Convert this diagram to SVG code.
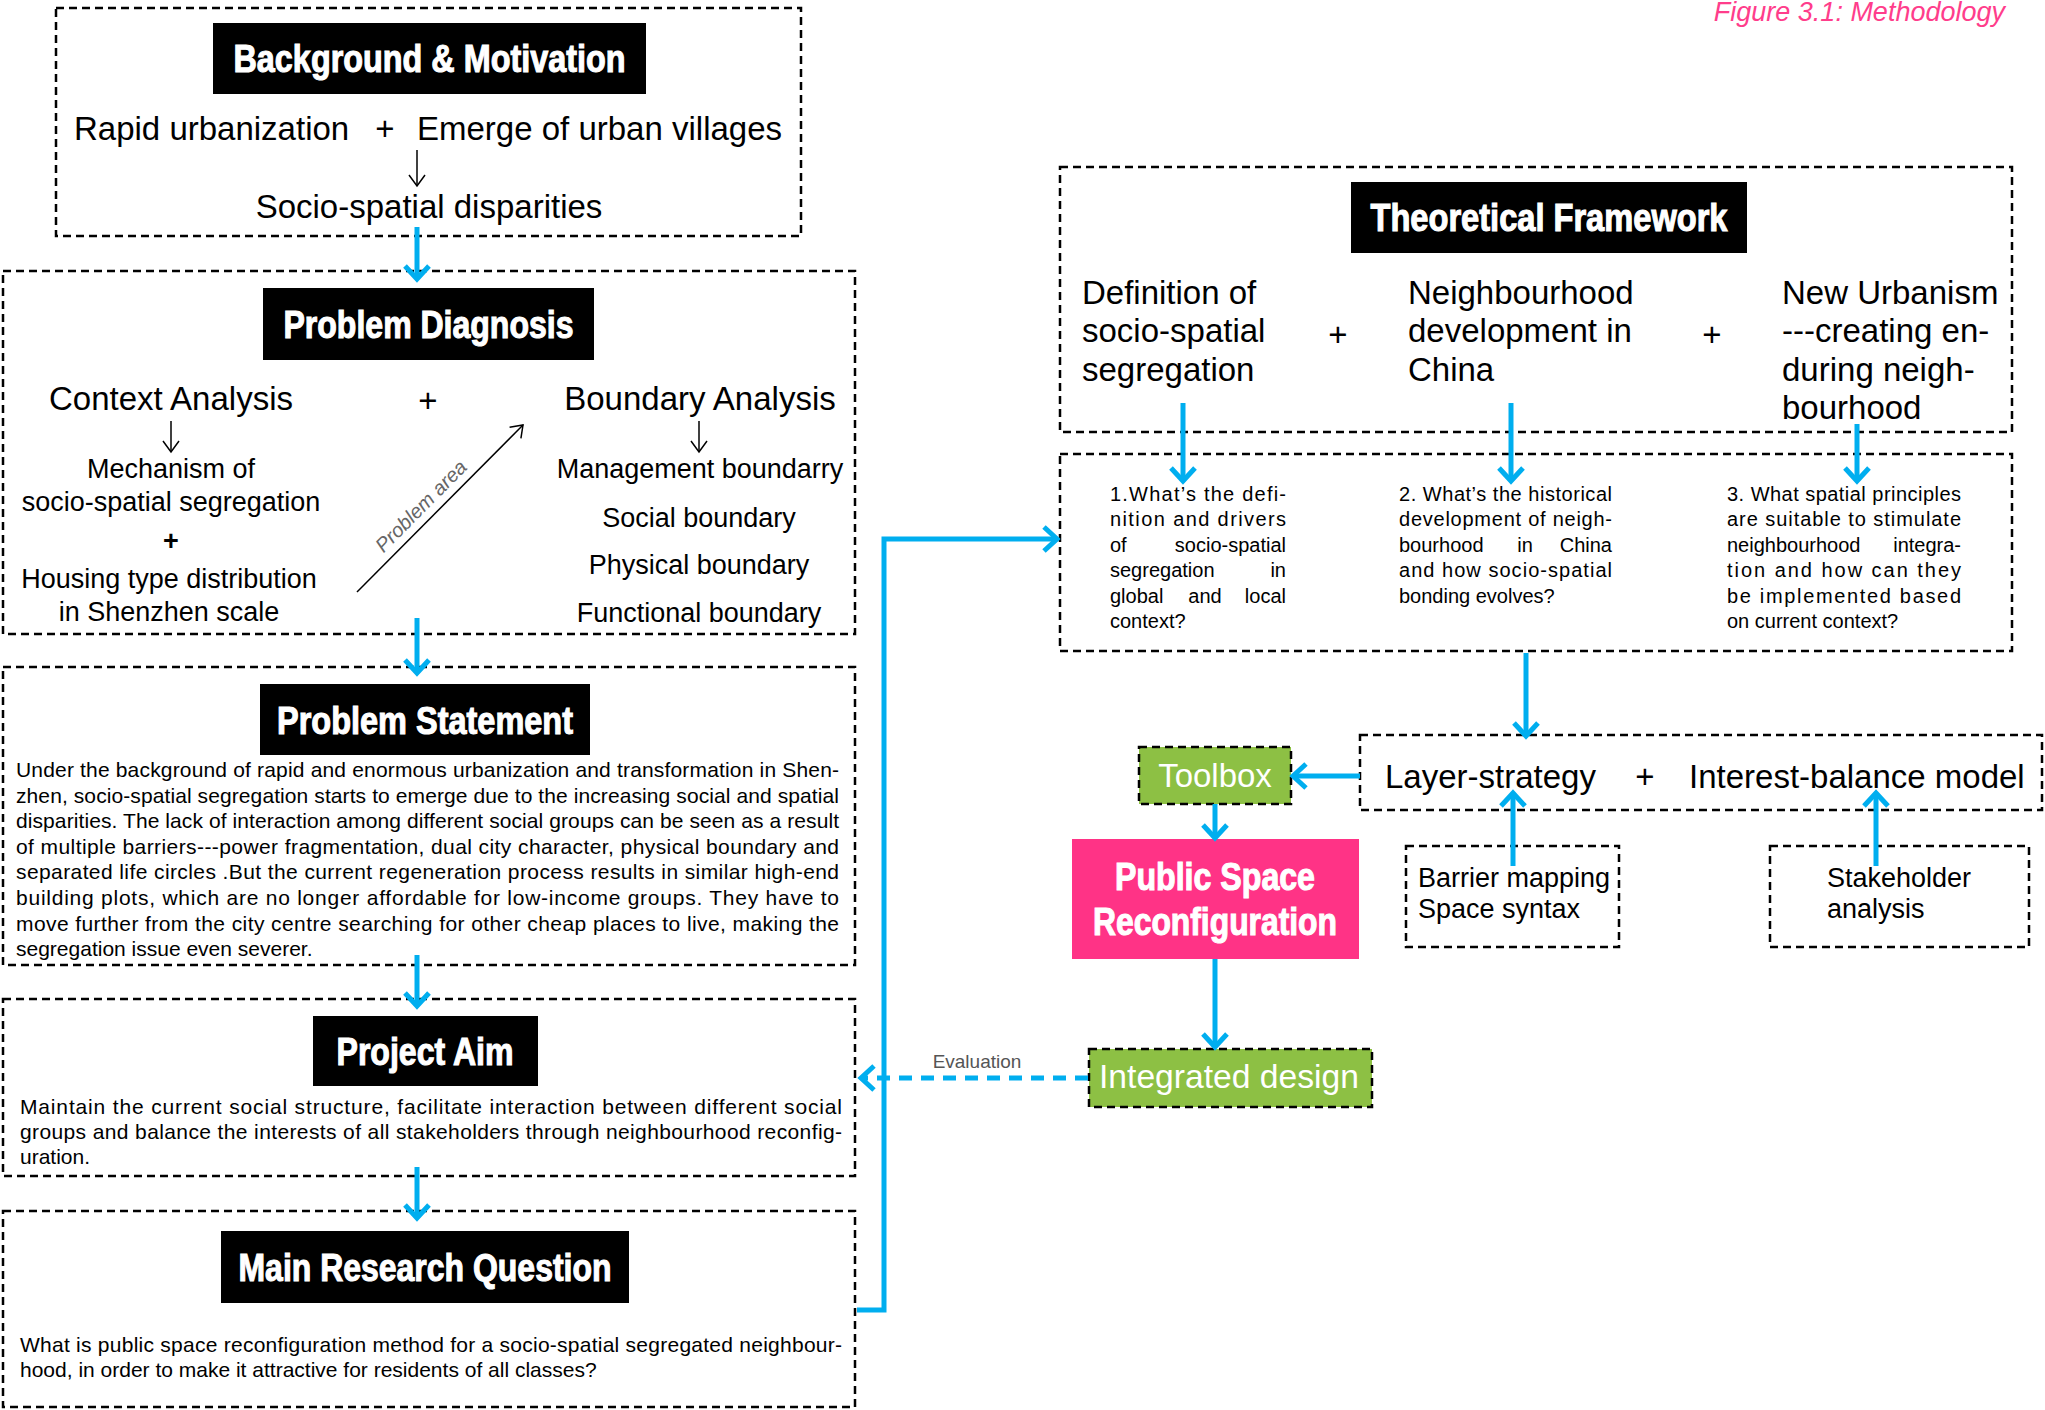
<svg xmlns="http://www.w3.org/2000/svg" width="2045" height="1410" viewBox="0 0 2045 1410">
<defs>
<style>
.bg{fill:#fff}
.dash{fill:none;stroke:#000;stroke-width:2.5;stroke-dasharray:8 5}
.tbox{fill:#000}
.tt{font-family:"Liberation Sans",Arial,sans-serif;font-weight:bold;fill:#fff;stroke:#fff;stroke-width:1.1;text-anchor:middle;font-size:38px}
.h{font-family:"Liberation Sans",Arial,sans-serif;font-size:33px;fill:#000}
.m{font-family:"Liberation Sans",Arial,sans-serif;font-size:27px;fill:#000}
.p{font-family:"Liberation Sans",Arial,sans-serif;font-size:21px;fill:#000}
.q{font-family:"Liberation Sans",Arial,sans-serif;font-size:20px;fill:#000}
.c{text-anchor:middle}
.e{text-anchor:end}
.blue{fill:none;stroke:#00AEEF;stroke-width:5}
.thin{fill:none;stroke:#000;stroke-width:1.5}
.green{fill:#8DC044;stroke:#000;stroke-width:2.5;stroke-dasharray:8 5}
.wt{font-family:"Liberation Sans",Arial,sans-serif;font-size:33px;fill:#fff;text-anchor:middle}
</style>
<marker id="ab" markerUnits="userSpaceOnUse" markerWidth="40" markerHeight="40" refX="0" refY="0" orient="auto" overflow="visible">
<path d="M-13,-12 L0,0 L-13,12" fill="none" stroke="#00AEEF" stroke-width="5" stroke-dasharray="none"/>
</marker>
<marker id="ak" markerUnits="userSpaceOnUse" markerWidth="30" markerHeight="30" refX="0" refY="0" orient="auto" overflow="visible">
<path d="M-11,-8 L0,0 L-11,8" fill="none" stroke="#000" stroke-width="1.5"/>
</marker>
</defs>
<rect class="bg" x="0" y="0" width="2045" height="1410"/>

<text x="2005" y="21" font-family="Liberation Sans,Arial,sans-serif" font-size="27" font-style="italic" fill="#FF3D8B" text-anchor="end">Figure 3.1: Methodology</text>

<g id="background">
<rect class="dash" x="56" y="8" width="745" height="228"/>
<rect class="tbox" x="213" y="23" width="433" height="71"/>
<text class="tt" x="429.5" y="72" textLength="392" lengthAdjust="spacingAndGlyphs">Background &amp; Motivation</text>
<text class="h" x="74" y="140">Rapid urbanization</text>
<text class="h c" x="385" y="140">+</text>
<text class="h" x="417" y="140">Emerge of urban villages</text>
<line class="thin" x1="417" y1="150" x2="417" y2="186" marker-end="url(#ak)"/>
<text class="h c" x="429" y="218">Socio-spatial disparities</text>
</g>

<g id="problem-diagnosis">
<rect class="dash" x="3" y="271" width="852" height="363"/>
<rect class="tbox" x="263" y="288" width="331" height="72"/>
<text class="tt" x="428.5" y="338" textLength="290" lengthAdjust="spacingAndGlyphs">Problem Diagnosis</text>
<text class="h c" x="171" y="410">Context Analysis</text>
<text class="h c" x="428" y="412">+</text>
<text class="h c" x="700" y="410">Boundary Analysis</text>
<line class="thin" x1="171" y1="421" x2="171" y2="452" marker-end="url(#ak)"/>
<line class="thin" x1="699" y1="421" x2="699" y2="452" marker-end="url(#ak)"/>
<text class="m c" x="171" y="478">Mechanism of</text>
<text class="m c" x="171" y="511">socio-spatial segregation</text>
<text class="m c" x="171" y="550" font-weight="bold">+</text>
<text class="m c" x="169" y="588">Housing type distribution</text>
<text class="m c" x="169" y="621">in Shenzhen scale</text>
<text class="m c" x="700" y="478">Management boundarry</text>
<text class="m c" x="699" y="527">Social boundary</text>
<text class="m c" x="699" y="574">Physical boundary</text>
<text class="m c" x="699" y="622">Functional boundary</text>
<line class="thin" x1="357" y1="592" x2="523" y2="425" marker-end="url(#ak)"/>
<text transform="translate(440,508) rotate(-45.2)" x="-12" y="-8" font-family="Liberation Sans,Arial,sans-serif" font-size="20" font-style="italic" fill="#666" text-anchor="middle">Problem area</text>
</g>

<g id="problem-statement">
<rect class="dash" x="3" y="667" width="852" height="298"/>
<rect class="tbox" x="260" y="684" width="330" height="71"/>
<text class="tt" x="425" y="734" textLength="296" lengthAdjust="spacingAndGlyphs">Problem Statement</text>
<text class="p" x="16" y="777" textLength="823" lengthAdjust="spacing">Under the background of rapid and enormous urbanization and transformation in Shen-</text>
<text class="p" x="16" y="803" textLength="823" lengthAdjust="spacing">zhen, socio-spatial segregation starts to emerge due to the increasing social and spatial</text>
<text class="p" x="16" y="828" textLength="823" lengthAdjust="spacing">disparities. The lack of interaction among different social groups can be seen as a result</text>
<text class="p" x="16" y="854" textLength="823" lengthAdjust="spacing">of multiple barriers---power fragmentation, dual city character, physical boundary and</text>
<text class="p" x="16" y="879" textLength="823" lengthAdjust="spacing">separated life circles .But the current regeneration process results in similar high-end</text>
<text class="p" x="16" y="905" textLength="823" lengthAdjust="spacing">building plots, which are no longer affordable for low-income groups. They have to</text>
<text class="p" x="16" y="931" textLength="823" lengthAdjust="spacing">move further from the city centre searching for other cheap places to live, making the</text>
<text class="p" x="16" y="956">segregation issue even severer.</text>
</g>

<g id="project-aim">
<rect class="dash" x="3" y="999" width="852" height="177"/>
<rect class="tbox" x="313" y="1016" width="225" height="70"/>
<text class="tt" x="425" y="1065" textLength="177" lengthAdjust="spacingAndGlyphs">Project Aim</text>
<text class="p" x="20" y="1114" textLength="822" lengthAdjust="spacing">Maintain the current social structure, facilitate interaction between different social</text>
<text class="p" x="20" y="1139" textLength="822" lengthAdjust="spacing">groups and balance the interests of all stakeholders through neighbourhood reconfig-</text>
<text class="p" x="20" y="1164">uration.</text>
</g>

<g id="main-research-question">
<rect class="dash" x="3" y="1211" width="852" height="196"/>
<rect class="tbox" x="221" y="1231" width="408" height="72"/>
<text class="tt" x="425" y="1281" textLength="373" lengthAdjust="spacingAndGlyphs">Main Research Question</text>
<text class="p" x="20" y="1352" textLength="822" lengthAdjust="spacing">What is public space reconfiguration method for a socio-spatial segregated neighbour-</text>
<text class="p" x="20" y="1377">hood, in order to make it attractive for residents of all classes?</text>
</g>

<g id="theoretical-framework">
<rect class="dash" x="1060" y="167" width="952" height="265"/>
<rect class="tbox" x="1351" y="182" width="396" height="71"/>
<text class="tt" x="1549" y="231" textLength="357" lengthAdjust="spacingAndGlyphs">Theoretical Framework</text>
<text class="h" x="1082" y="304">Definition of</text>
<text class="h" x="1082" y="342">socio-spatial</text>
<text class="h" x="1082" y="381">segregation</text>
<text class="h c" x="1338" y="346">+</text>
<text class="h" x="1408" y="304">Neighbourhood</text>
<text class="h" x="1408" y="342">development in</text>
<text class="h" x="1408" y="381">China</text>
<text class="h c" x="1712" y="346">+</text>
<text class="h" x="1782" y="304">New Urbanism</text>
<text class="h" x="1782" y="342">---creating en-</text>
<text class="h" x="1782" y="381">during neigh-</text>
<text class="h" x="1782" y="419">bourhood</text>
</g>

<g id="sub-questions">
<rect class="dash" x="1060" y="454" width="952" height="197"/>
<text class="q" x="1110" y="501" textLength="176" lengthAdjust="spacing">1.What’s the defi-</text>
<text class="q" x="1110" y="526" textLength="176" lengthAdjust="spacing">nition and drivers</text>
<text class="q" x="1110" y="552">of</text><text class="q e" x="1286" y="552">socio-spatial</text>
<text class="q" x="1110" y="577">segregation</text><text class="q e" x="1286" y="577">in</text>
<text class="q" x="1110" y="603">global</text><text class="q c" x="1205" y="603">and</text><text class="q e" x="1286" y="603">local</text>
<text class="q" x="1110" y="628">context?</text>
<text class="q" x="1399" y="501" textLength="213" lengthAdjust="spacing">2. What’s the historical</text>
<text class="q" x="1399" y="526" textLength="213" lengthAdjust="spacing">development of neigh-</text>
<text class="q" x="1399" y="552">bourhood</text><text class="q c" x="1525" y="552">in</text><text class="q e" x="1612" y="552">China</text>
<text class="q" x="1399" y="577" textLength="213" lengthAdjust="spacing">and how socio-spatial</text>
<text class="q" x="1399" y="603">bonding evolves?</text>
<text class="q" x="1727" y="501" textLength="234" lengthAdjust="spacing">3. What spatial principles</text>
<text class="q" x="1727" y="526" textLength="234" lengthAdjust="spacing">are suitable to stimulate</text>
<text class="q" x="1727" y="552">neighbourhood</text><text class="q e" x="1961" y="552">integra-</text>
<text class="q" x="1727" y="577" textLength="234" lengthAdjust="spacing">tion and how can they</text>
<text class="q" x="1727" y="603" textLength="234" lengthAdjust="spacing">be implemented based</text>
<text class="q" x="1727" y="628">on current context?</text>
</g>

<g id="layer-strategy">
<rect class="dash" x="1360" y="735" width="682" height="75"/>
<text class="h" x="1385" y="788">Layer-strategy</text>
<text class="h c" x="1645" y="788">+</text>
<text class="h" x="1689" y="788">Interest-balance model</text>
</g>

<g id="toolbox">
<rect class="green" x="1139" y="747" width="152" height="57"/>
<text class="wt" x="1215" y="787">Toolbox</text>
</g>

<g id="public-space">
<rect x="1072" y="839" width="287" height="120" fill="#FF3386"/>
<text class="tt" x="1215" y="890" textLength="200" lengthAdjust="spacingAndGlyphs">Public Space</text>
<text class="tt" x="1215" y="935" textLength="244" lengthAdjust="spacingAndGlyphs">Reconfiguration</text>
</g>

<g id="integrated-design">
<rect class="green" x="1089" y="1049" width="283" height="58"/>
<text class="wt" x="1229" y="1088" textLength="260" lengthAdjust="spacingAndGlyphs">Integrated design</text>
</g>

<g id="barrier-mapping">
<rect class="dash" x="1406" y="846" width="213" height="101"/>
<text class="m" x="1418" y="887">Barrier mapping</text>
<text class="m" x="1418" y="918">Space syntax</text>
</g>

<g id="stakeholder">
<rect class="dash" x="1770" y="846" width="259" height="101"/>
<text class="m" x="1827" y="887">Stakeholder</text>
<text class="m" x="1827" y="918">analysis</text>
</g>

<g id="connectors">
<line class="blue" x1="417" y1="227" x2="417" y2="279" marker-end="url(#ab)"/>
<line class="blue" x1="417" y1="618" x2="417" y2="673" marker-end="url(#ab)"/>
<line class="blue" x1="417" y1="955" x2="417" y2="1006" marker-end="url(#ab)"/>
<line class="blue" x1="417" y1="1167" x2="417" y2="1218" marker-end="url(#ab)"/>
<polyline class="blue" points="857,1310 884,1310 884,539 1057,539" marker-end="url(#ab)"/>
<line class="blue" x1="1088" y1="1078" x2="861" y2="1078" stroke-dasharray="13 9" marker-end="url(#ab)"/>
<text x="977" y="1068" font-family="Liberation Sans,Arial,sans-serif" font-size="19" fill="#555" text-anchor="middle">Evaluation</text>
<line class="blue" x1="1183" y1="403" x2="1183" y2="481" marker-end="url(#ab)"/>
<line class="blue" x1="1511" y1="403" x2="1511" y2="481" marker-end="url(#ab)"/>
<line class="blue" x1="1857" y1="424" x2="1857" y2="481" marker-end="url(#ab)"/>
<line class="blue" x1="1526" y1="653" x2="1526" y2="736" marker-end="url(#ab)"/>
<line class="blue" x1="1360" y1="776" x2="1293" y2="776" marker-end="url(#ab)"/>
<line class="blue" x1="1215" y1="804" x2="1215" y2="838" marker-end="url(#ab)"/>
<line class="blue" x1="1215" y1="959" x2="1215" y2="1047" marker-end="url(#ab)"/>
<line class="blue" x1="1513" y1="866" x2="1513" y2="793" marker-end="url(#ab)"/>
<line class="blue" x1="1876" y1="866" x2="1876" y2="793" marker-end="url(#ab)"/>
</g>
</svg>
